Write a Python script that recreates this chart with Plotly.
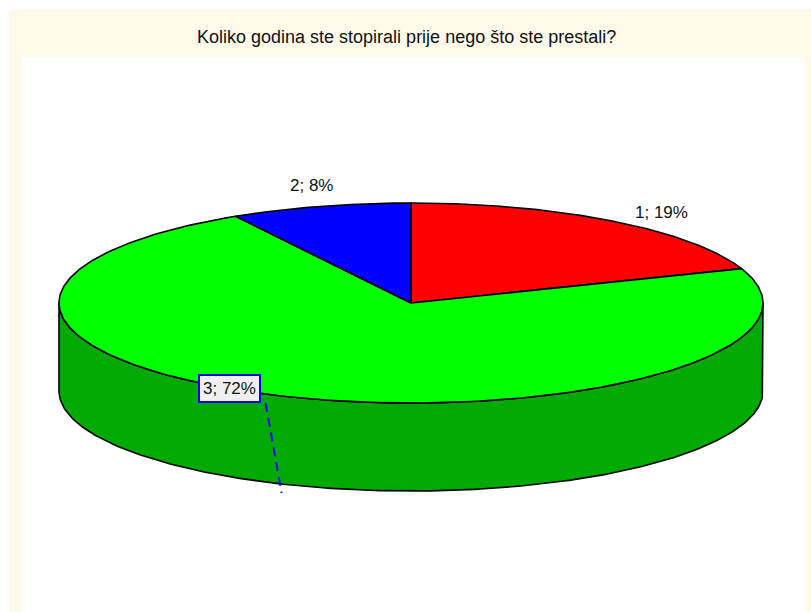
import numpy as np
import plotly.graph_objects as go

# ---- data ----
title = "Koliko godina ste stopirali prije nego što ste prestali?"
categories = ["1", "3", "2"]          # clockwise order from 12 o'clock
values = [19.4, 72.2, 8.3]            # percent
top_colors = ["#FF0000", "#00FF00", "#0000FF"]
side_colors = ["#AA0000", "#00AA00", "#0000AA"]

# ---- geometry (styling, page pixel coordinates) ----
W, H = 811, 612
cx, cy = 411, 303
rx, ry = 352, 100
depth = 88
FONT = "Liberation Sans, Arial, sans-serif"

def pt(t_deg, dy=0.0, sx=1.0, sy=1.0):
    t = np.radians(t_deg)
    return cx + rx * sx * np.cos(t), cy - ry * sy * np.sin(t) + dy

total = sum(values)
spans = [v / total * 360.0 for v in values]
intervals = []
start = 90.0
for s in spans:
    intervals.append((start - s, start))
    start -= s

fig = go.Figure()

# side walls (front half only: angles with sin < 0)
for (a, b), col in zip(intervals, side_colors):
    for k in range(-2, 2):
        lo, hi = max(a, -180 + 360 * k), min(b, 0 + 360 * k)
        if hi - lo <= 0:
            continue
        tt = np.linspace(lo, hi, 200)
        xt, yt = pt(tt)
        xb, yb = pt(tt[::-1], dy=depth)
        xs = np.concatenate([xt, xb, xt[:1]])
        ys = np.concatenate([yt, yb, yt[:1]])
        fig.add_trace(go.Scatter(x=xs, y=ys, mode="lines", fill="toself",
                                 fillcolor=col, line=dict(color="black", width=1.6),
                                 hoverinfo="skip", showlegend=False))

# top slices
for (a, b), col in zip(intervals, top_colors):
    tt = np.linspace(b, a, 300)
    xa, ya = pt(tt)
    xs = np.concatenate([[cx], xa, [cx]])
    ys = np.concatenate([[cy], ya, [cy]])
    fig.add_trace(go.Scatter(x=xs, y=ys, mode="lines", fill="toself",
                             fillcolor=col, line=dict(color="black", width=1.6),
                             hoverinfo="skip", showlegend=False))

# labels
annotations = []
for (a, b), cat, v in zip(intervals, categories, values):
    mid = (a + b) / 2
    text = f"{cat}; {round(v):d}%"
    c, s = np.cos(np.radians(mid)), np.sin(np.radians(mid))
    if s >= 0:
        lx, ly = pt(mid, sx=1.1, sy=1.1)
        if abs(c) > 0.5:
            xa_, ya_ = ("left" if c > 0 else "right"), "middle"
        else:
            xa_, ya_ = "center", "bottom"
        annotations.append(dict(x=lx, y=ly, text=text, showarrow=False,
                                font=dict(family=FONT, size=17, color="#111111"),
                                xanchor=xa_, yanchor=ya_))
    else:
        ax_, ay_ = pt(mid, dy=depth + 8)
        bx, by = ax_ - 61, cy + ry * 0.85
        annotations.append(dict(x=bx, y=by, text=text, showarrow=False,
                                font=dict(family=FONT, size=17, color="#111111"),
                                bgcolor="#F0F0F0", bordercolor="#0000FF",
                                borderwidth=2, borderpad=3,
                                xanchor="center", yanchor="middle"))
        fig.add_trace(go.Scatter(x=[bx + 36, ax_ - 9], y=[by + 15, ay_], mode="lines",
                                 line=dict(color="#0000FF", width=2, dash="9px,6px"),
                                 hoverinfo="skip", showlegend=False))

annotations.append(dict(x=406, y=37, text=title, showarrow=False,
                        font=dict(family=FONT, size=18, color="#111111"),
                        xanchor="center", yanchor="middle"))

shapes = [
    dict(type="rect", xref="x", yref="y", x0=9, x1=W, y0=10, y1=H,
         fillcolor="#FFF9EA", line=dict(width=0), layer="below"),
    dict(type="rect", xref="x", yref="y", x0=21, x1=805, y0=57, y1=H,
         fillcolor="#FFFFFF", line=dict(width=0), layer="below"),
]

fig.update_layout(
    width=W, height=H,
    margin=dict(l=0, r=0, t=0, b=0),
    paper_bgcolor="white", plot_bgcolor="rgba(0,0,0,0)",
    xaxis=dict(range=[0, W], visible=False, fixedrange=True),
    yaxis=dict(range=[H, 0], visible=False, fixedrange=True),
    shapes=shapes, annotations=annotations, showlegend=False,
    hovermode=False,
)

fig.write_html(
    "out.html",
    config={"displayModeBar": False, "staticPlot": True},
    post_script="document.body.style.margin='0';document.body.style.overflow='hidden';",
)
